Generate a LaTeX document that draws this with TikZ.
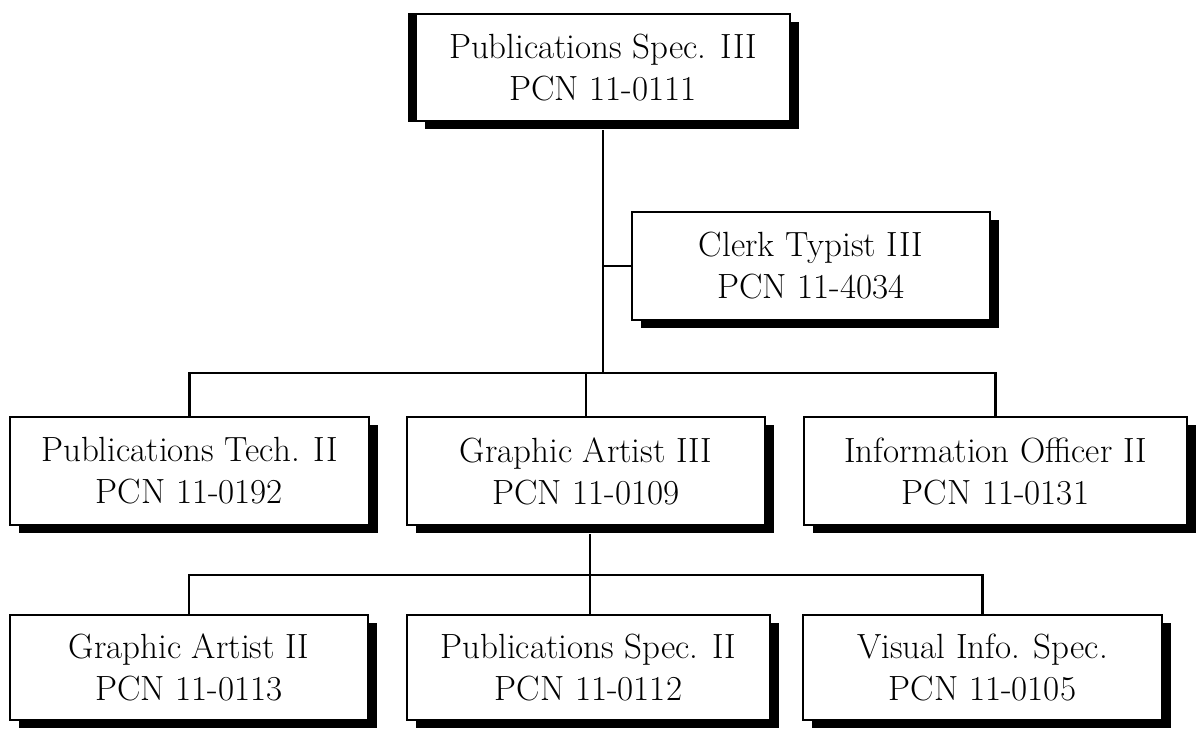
\documentclass[tikz,border=0pt]{standalone}
\usetikzlibrary{shadows}
\begin{document}
\begin{tikzpicture}[x=0.5pt,y=-0.5pt,
  box/.style={draw=black, line width=1pt, fill=white, rectangle, inner sep=0pt,
    align=center, font=\fontsize{17.5}{21}\selectfont,
    drop shadow={shadow xshift=4.5pt, shadow yshift=-4pt, opacity=1, fill=black}},
  conn/.style={draw=black, line width=1.1pt}]
\useasboundingbox (0,0) rectangle (1197,728);
% boxes
\node[box, minimum width=187pt, minimum height=53.5pt] (top) at (603,67.5) {Publications Spec. III\\PCN 11-0111};
\fill (top.north west) ++(-3.5pt,0pt) rectangle (top.south west);
\node[box, minimum width=179pt, minimum height=54pt] (clerk) at (811,266) {Clerk Typist III\\PCN 11-4034};
\node[box, minimum width=179.5pt, minimum height=54pt] (pt2) at (189.5,471) {Publications Tech. II\\PCN 11-0192};
\node[box, minimum width=179pt, minimum height=54pt] (ga3) at (586,471) {Graphic Artist III\\PCN 11-0109};
\node[box, minimum width=191.5pt, minimum height=54pt] (io2) at (995.5,471) {Information Officer II\\PCN 11-0131};
\node[box, minimum width=179pt, minimum height=52.5pt] (ga2) at (189,667.5) {Graphic Artist II\\PCN 11-0113};
\node[box, minimum width=181.5pt, minimum height=52.5pt] (ps2) at (588.5,667.5) {Publications Spec. II\\PCN 11-0112};
\node[box, minimum width=179.5pt, minimum height=52.5pt] (vis) at (982.5,667.5) {Visual Info. Spec.\\PCN 11-0105};
% junctions
\coordinate (b1) at (603,373);
\coordinate (b2) at (590,575);
% connectors
\draw[conn] ([yshift=-4pt]top.south) -- (b1);
\draw[conn] (clerk.west) -- (clerk.west -| b1);
\draw[conn] (pt2.north) |- (b1) -| (io2.north);
\draw[conn] (ga3.north) -- (ga3.north |- b1);
\draw[conn] ([yshift=-4pt]ga3.south -| b2) -- (b2);
\draw[conn] (ga2.north) |- (b2) -| (vis.north);
\draw[conn] (b2) -- (b2 |- ps2.north);
\end{tikzpicture}
\end{document}
